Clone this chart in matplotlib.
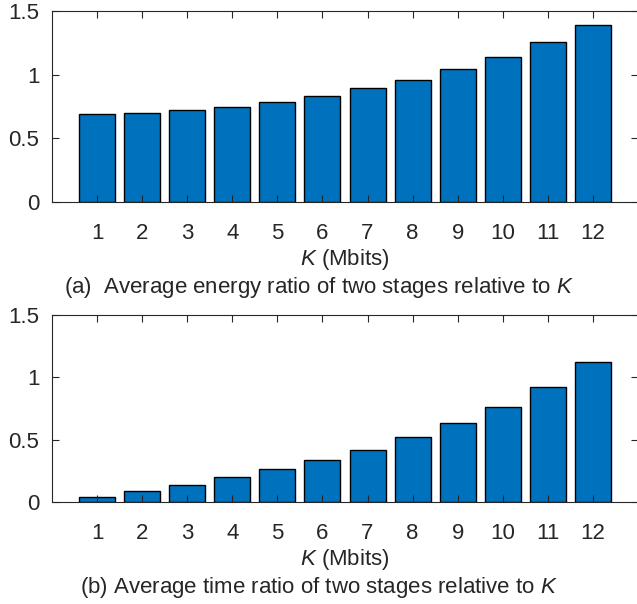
import numpy as np
import matplotlib.pyplot as plt

plt.rcParams['font.family'] = ['Liberation Sans', 'DejaVu Sans']
plt.rcParams['mathtext.fontset'] = 'custom'
plt.rcParams['mathtext.it'] = 'Liberation Sans:italic'
plt.rcParams['mathtext.rm'] = 'Liberation Sans'

# data ---------------------------------------------------------------------------------

k_mbits = np.arange(1, 13)
energy_ratio = [0.693, 0.70, 0.721, 0.75, 0.789, 0.836, 0.893, 0.961, 1.042, 1.138, 1.253, 1.393]
time_ratio = [0.037, 0.085, 0.138, 0.197, 0.261, 0.335, 0.420, 0.521, 0.633, 0.766, 0.926, 1.12]
y_ticks = [0, 0.5, 1, 1.5]
y_tick_labels = ["0", "0.5", "1", "1.5"]

captions = [
    r"(a)  Average energy ratio of two stages relative to $K$",
    r"(b) Average time ratio of two stages relative to $K$",
]

bar_color = "#0072BD"
axis_color = "#262626"
fs = 16

# plot ---------------------------------------------------------------------------------

fig = plt.figure(figsize=(6.37, 6.04), dpi=100)
ax_top = fig.add_axes([52 / 637, 1 - 202 / 604, 586 / 637, 191 / 604])
ax_bot = fig.add_axes([52 / 637, 1 - 502 / 604, 586 / 637, 187 / 604])


def draw_panel(ax, values, label_y):
    ax.bar(k_mbits, values, width=0.8, color=bar_color, edgecolor="black", linewidth=1.0)
    ax.set_xlim(0, 13)
    ax.set_ylim(0, 1.5)
    ax.set_xticks(k_mbits)
    ax.set_xticklabels([str(k) for k in k_mbits])
    ax.set_yticks(y_ticks)
    ax.set_yticklabels(y_tick_labels)
    ax.tick_params(direction="in", top=True, right=True, length=5, width=0.8,
                   labelsize=fs, colors=axis_color)
    ax.tick_params(axis="x", pad=15)
    ax.tick_params(axis="y", pad=9)
    for s in ax.spines.values():
        s.set_color(axis_color)
        s.set_linewidth(0.8)
    ax.set_xlabel(r"$K$ (Mbits)", fontsize=fs, color=axis_color, va="center")
    ax.xaxis.set_label_coords(345 / 637, label_y, transform=fig.transFigure)


draw_panel(ax_top, energy_ratio, 1 - 260 / 604)
draw_panel(ax_bot, time_ratio, 1 - 560 / 604)

fig.text(0.5, 1 - 287 / 604, captions[0], ha="center", va="center", fontsize=fs, color=axis_color)
fig.text(0.5, 1 - 588 / 604, captions[1], ha="center", va="center", fontsize=fs, color=axis_color)

fig.savefig("out.png", dpi=100)
